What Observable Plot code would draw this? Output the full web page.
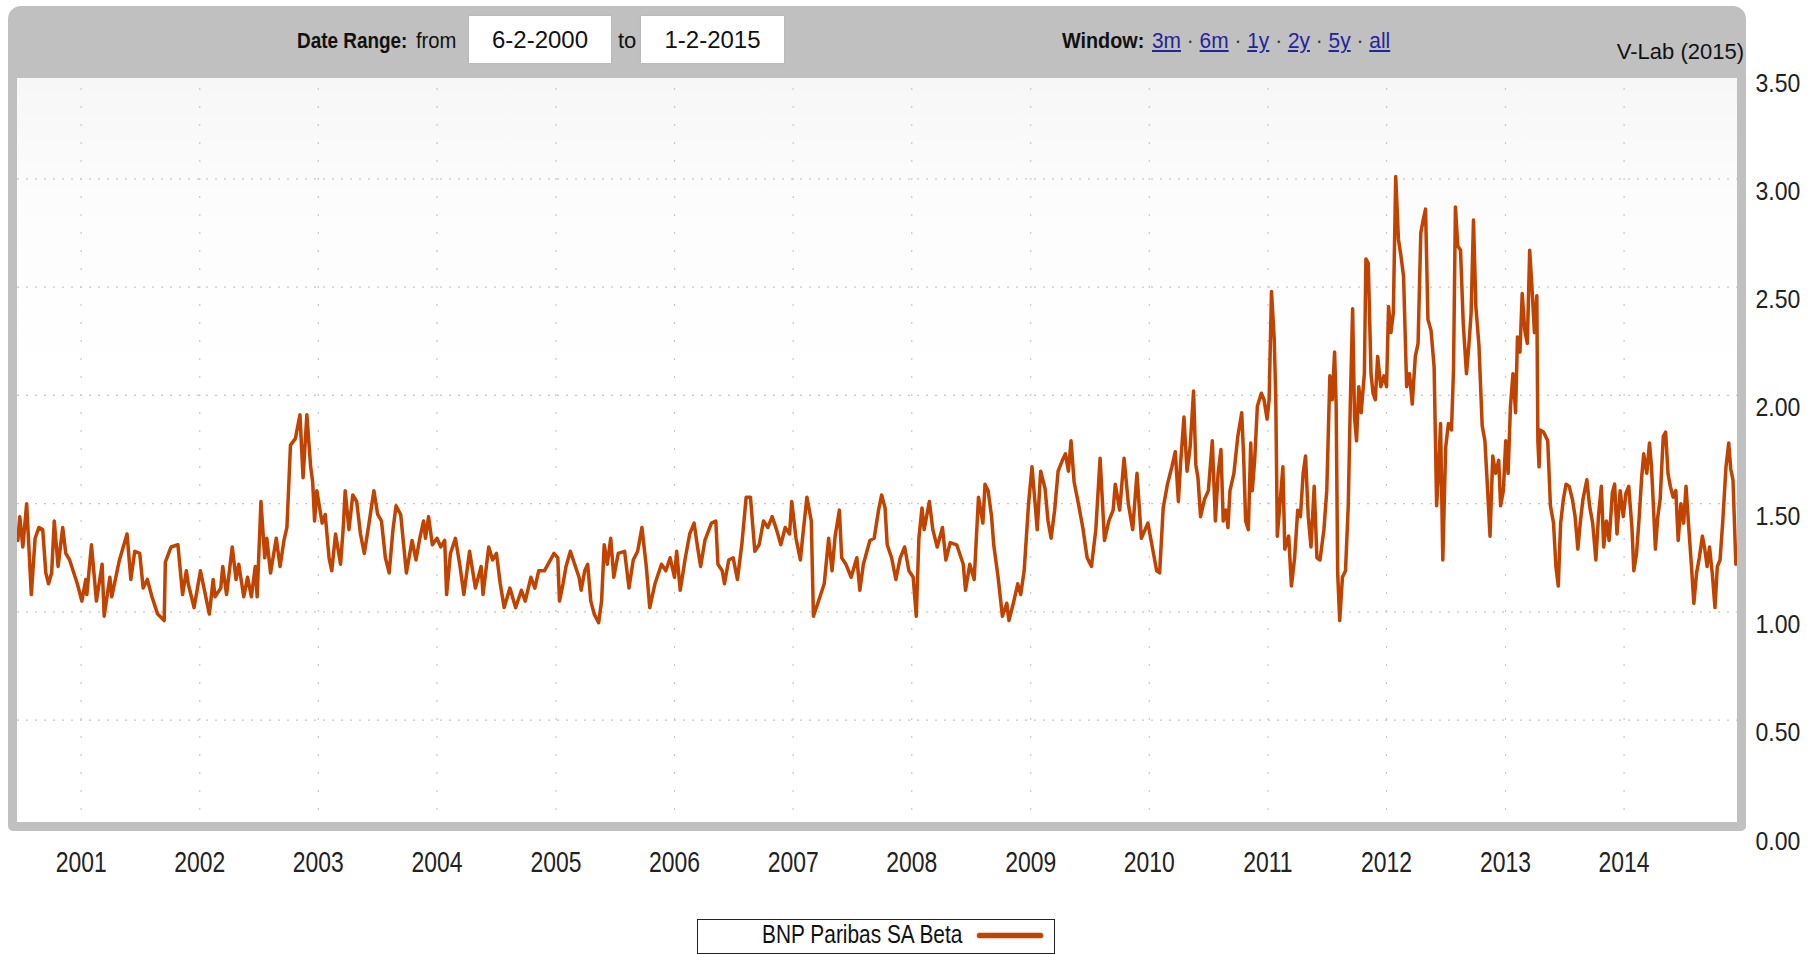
<!DOCTYPE html>
<html><head><meta charset="utf-8">
<script src="https://cdn.jsdelivr.net/npm/d3@7"></script>
<script src="https://cdn.jsdelivr.net/npm/@observablehq/plot@0.6"></script>
<style>
html,body{margin:0;padding:0;background:#fff;}
#chart{position:relative;width:1816px;height:954px;overflow:hidden;font-family:"Liberation Sans",Arial,sans-serif;}
.abs{position:absolute;white-space:nowrap;}
#plotbg{left:17px;top:78px;width:1720px;height:744px;background:linear-gradient(#f7f7f7 0px,#fcfcfc 120px,#ffffff 300px);}
#svgwrap{left:0;top:0;}
#frame{left:8px;top:6px;width:1738px;height:825px;box-sizing:border-box;border-style:solid;border-color:#c0c0c0;border-width:72px 9px 9px 9px;border-radius:13px 13px 5px 5px;}
.hdr{font-size:22px;line-height:22px;color:#111;top:30px;transform-origin:0 50%;}
.b{font-weight:bold;}
.box{top:16px;height:47px;background:#fff;box-shadow:0 0 1.5px #aaa;font-size:24px;line-height:47px;text-align:center;color:#111;}
.links a{color:#24249a;text-decoration:underline;}
.sep{color:#333;}
#legend{left:697px;top:919px;width:358px;height:35px;box-sizing:border-box;border:1.5px solid #222;background:#fff;}
#legtext{left:64px;top:2px;font-size:25px;line-height:25px;color:#111;transform:scaleX(0.835);transform-origin:0 50%;}
#legline{left:279px;top:13px;width:66px;height:5px;border-radius:3px;}
</style></head>
<body>
<div id="chart">
  <div id="plotbg" class="abs"></div>
  <div id="svgwrap" class="abs"></div>
  <div id="frame" class="abs"></div>
  <span class="abs hdr b" style="left:297px;transform:scaleX(0.86);">Date Range:</span>
  <span class="abs hdr" style="left:416px;transform:scaleX(0.92);">from</span>
  <div class="abs box" style="left:469px;width:142px;" id="fromBox"></div>
  <span class="abs hdr" style="left:618px;">to</span>
  <div class="abs box" style="left:641px;width:143px;" id="toBox"></div>
  <span class="abs hdr b" style="left:1062px;transform:scaleX(0.9);">Window:</span>
  <span class="abs hdr links" style="left:1152px;transform:scaleX(0.95);" id="links"></span>
  <span class="abs hdr" style="right:72px;top:41px;" id="credit"></span>
  <div id="legend" class="abs">
    <span id="legtext" class="abs"></span>
    <div id="legline" class="abs"></div>
  </div>
</div>
<script>
// ---- Data (decimal year, beta) ----
const seg2000 = [[2000.468,1.33],[2000.484,1.44],[2000.510,1.30],[2000.542,1.50],[2000.581,1.08],[2000.613,1.34],[2000.645,1.39],[2000.677,1.38],[2000.703,1.18],[2000.726,1.13],[2000.752,1.18],[2000.774,1.42],[2000.806,1.21],[2000.845,1.39],[2000.871,1.27],[2000.903,1.24],[2000.968,1.13],[2001.006,1.05],[2001.039,1.15],[2001.048,1.08],[2001.087,1.31],[2001.129,1.05],[2001.177,1.22],[2001.194,0.98],[2001.242,1.16],[2001.258,1.07],[2001.323,1.24],[2001.355,1.30],[2001.387,1.36],[2001.419,1.15],[2001.452,1.28],[2001.494,1.27],[2001.523,1.11],[2001.558,1.15],[2001.597,1.07],[2001.645,0.99],[2001.700,0.96],[2001.710,1.23],[2001.758,1.30],[2001.816,1.31],[2001.855,1.08],[2001.887,1.19],[2001.903,1.13],[2001.952,1.02],[2002.006,1.19],[2002.081,0.99],[2002.113,1.15],[2002.129,1.07],[2002.177,1.11],[2002.194,1.21],[2002.226,1.08],[2002.274,1.30],[2002.306,1.15],[2002.329,1.22],[2002.371,1.07],[2002.403,1.16],[2002.435,1.07],[2002.468,1.21],[2002.484,1.07],[2002.516,1.51],[2002.548,1.25],[2002.565,1.34],[2002.597,1.18],[2002.645,1.34],[2002.677,1.21],[2002.710,1.33],[2002.735,1.39],[2002.765,1.77],[2002.806,1.80],[2002.845,1.91],[2002.871,1.62],[2002.903,1.91],[2002.935,1.67],[2002.952,1.60],[2002.968,1.42],[2002.987,1.56],[2003.032,1.41],[2003.058,1.45],[2003.090,1.25],[2003.113,1.19],[2003.145,1.36],[2003.187,1.22],[2003.210,1.39],[2003.226,1.56],[2003.258,1.38],[2003.290,1.54],[2003.323,1.51],[2003.355,1.36],[2003.387,1.27],[2003.419,1.38],[2003.468,1.56],[2003.500,1.45],[2003.532,1.42],[2003.565,1.25],[2003.597,1.18],[2003.629,1.38],[2003.655,1.49],[2003.694,1.45],[2003.742,1.18],[2003.790,1.33],[2003.823,1.24],[2003.855,1.34],[2003.887,1.42],[2003.903,1.34],[2003.929,1.44],[2003.961,1.31],[2004.000,1.34],[2004.032,1.30],[2004.065,1.33],[2004.081,1.08],[2004.113,1.27],[2004.155,1.34],[2004.194,1.21],[2004.226,1.08],[2004.274,1.28],[2004.323,1.11],[2004.371,1.21],[2004.387,1.08],[2004.435,1.30],[2004.468,1.24],[2004.500,1.27],[2004.532,1.13],[2004.565,1.02],[2004.613,1.11],[2004.661,1.02],[2004.710,1.10],[2004.742,1.05],[2004.790,1.16],[2004.823,1.11],[2004.855,1.19],[2004.903,1.19],[2004.984,1.27],[2005.016,1.25]];

const seg2005 = [[2005.030,1.05],[2005.060,1.13],[2005.085,1.21],[2005.122,1.28],[2005.158,1.22],[2005.195,1.16],[2005.213,1.10],[2005.243,1.19],[2005.268,1.22],[2005.294,1.05],[2005.323,0.99],[2005.360,0.95],[2005.385,1.05],[2005.407,1.31],[2005.433,1.22],[2005.462,1.34],[2005.488,1.16],[2005.525,1.27],[2005.579,1.28],[2005.616,1.11],[2005.652,1.24],[2005.689,1.28],[2005.725,1.39],[2005.762,1.21],[2005.791,1.02],[2005.835,1.13],[2005.890,1.22],[2005.927,1.19],[2005.963,1.25],[2006.000,1.16],[2006.018,1.28],[2006.048,1.10],[2006.091,1.25],[2006.128,1.36],[2006.165,1.41],[2006.194,1.30],[2006.220,1.21],[2006.256,1.33],[2006.311,1.41],[2006.348,1.42],[2006.366,1.22],[2006.402,1.19],[2006.421,1.13],[2006.457,1.24],[2006.494,1.25],[2006.530,1.15],[2006.567,1.31],[2006.604,1.53],[2006.640,1.53],[2006.677,1.28],[2006.713,1.31],[2006.750,1.42],[2006.787,1.39],[2006.823,1.44],[2006.860,1.38],[2006.896,1.31],[2006.933,1.39],[2006.970,1.36],[2006.988,1.51],[2007.024,1.34],[2007.061,1.24],[2007.079,1.34],[2007.116,1.53],[2007.153,1.42],[2007.171,0.98],[2007.208,1.04],[2007.262,1.13],[2007.299,1.34],[2007.328,1.19],[2007.354,1.35],[2007.390,1.47],[2007.409,1.25],[2007.445,1.22],[2007.489,1.16],[2007.537,1.25],[2007.562,1.10],[2007.592,1.22],[2007.647,1.33],[2007.683,1.34],[2007.720,1.47],[2007.746,1.54],[2007.775,1.48],[2007.793,1.31],[2007.830,1.25],[2007.866,1.15],[2007.903,1.25],[2007.940,1.30],[2007.976,1.19],[2008.012,1.16],[2008.038,0.98],[2008.060,1.34],[2008.086,1.48],[2008.104,1.38],[2008.148,1.51],[2008.177,1.38],[2008.214,1.30],[2008.258,1.39],[2008.287,1.24],[2008.323,1.32],[2008.378,1.31],[2008.433,1.22],[2008.452,1.10],[2008.488,1.22],[2008.525,1.15],[2008.561,1.53],[2008.598,1.41],[2008.616,1.59],[2008.642,1.56],[2008.671,1.44],[2008.689,1.31],[2008.726,1.16],[2008.762,0.98],[2008.799,1.04],[2008.817,0.96],[2008.854,1.04],[2008.891,1.13],[2008.916,1.08],[2008.945,1.19],[2008.982,1.50],[2009.011,1.67],[2009.037,1.50],[2009.055,1.38],[2009.084,1.65],[2009.121,1.57],[2009.146,1.42],[2009.172,1.34],[2009.202,1.47],[2009.231,1.65],[2009.267,1.70],[2009.293,1.73],[2009.318,1.65],[2009.340,1.79],[2009.366,1.60],[2009.402,1.50],[2009.439,1.39],[2009.476,1.25],[2009.512,1.21],[2009.549,1.38],[2009.585,1.71],[2009.622,1.33],[2009.659,1.42],[2009.695,1.47],[2009.713,1.59],[2009.750,1.47],[2009.787,1.71],[2009.823,1.50],[2009.860,1.38],[2009.896,1.64],[2009.933,1.34],[2009.988,1.41],[2010.025,1.30],[2010.062,1.19],[2010.087,1.18],[2010.117,1.48],[2010.153,1.59],[2010.190,1.67],[2010.219,1.74],[2010.245,1.51],[2010.263,1.68],[2010.292,1.90],[2010.318,1.65],[2010.344,1.76],[2010.373,2.02],[2010.392,1.68],[2010.410,1.62]];

const seg2010 = [[2010.432,1.44],[2010.465,1.52],[2010.498,1.56],[2010.531,1.79],[2010.557,1.42],[2010.580,1.64],[2010.604,1.75],[2010.623,1.42],[2010.647,1.47],[2010.663,1.39],[2010.680,1.56],[2010.713,1.64],[2010.746,1.81],[2010.779,1.92],[2010.795,1.72],[2010.812,1.42],[2010.835,1.38],[2010.855,1.78],[2010.868,1.56],[2010.888,1.70],[2010.911,1.95],[2010.944,2.01],[2010.967,1.98],[2010.993,1.89],[2011.010,1.98],[2011.030,2.48],[2011.053,2.26],[2011.066,1.99],[2011.079,1.35],[2011.109,1.55],[2011.126,1.67],[2011.142,1.29],[2011.175,1.35],[2011.198,1.12],[2011.225,1.25],[2011.251,1.47],[2011.274,1.44],[2011.297,1.64],[2011.317,1.72],[2011.340,1.44],[2011.363,1.30],[2011.390,1.58],[2011.413,1.25],[2011.439,1.24],[2011.472,1.38],[2011.496,1.56],[2011.522,2.09],[2011.542,1.98],[2011.562,2.20],[2011.575,1.96],[2011.588,1.18],[2011.605,0.96],[2011.628,1.16],[2011.654,1.19],[2011.677,1.49],[2011.694,1.95],[2011.714,2.40],[2011.730,1.90],[2011.747,1.79],[2011.766,2.04],[2011.786,1.92],[2011.813,2.10],[2011.826,2.63],[2011.846,2.61],[2011.869,2.10],[2011.886,2.01],[2011.905,1.98],[2011.925,2.18],[2011.951,2.04],[2011.978,2.09],[2012.000,2.04],[2012.017,2.41],[2012.037,2.29],[2012.057,2.38],[2012.077,3.01],[2012.100,2.72],[2012.122,2.64],[2012.143,2.55],[2012.169,2.04],[2012.193,2.10],[2012.216,1.96],[2012.242,2.18],[2012.265,2.24],[2012.288,2.75],[2012.308,2.81],[2012.328,2.86],[2012.348,2.35],[2012.374,2.30],[2012.400,2.13],[2012.421,1.49],[2012.437,1.64],[2012.454,1.87],[2012.473,1.24],[2012.497,1.76],[2012.520,1.87],[2012.546,1.84],[2012.563,2.12],[2012.579,2.87],[2012.599,2.69],[2012.622,2.67],[2012.645,2.33],[2012.672,2.10],[2012.692,2.23],[2012.711,2.38],[2012.731,2.81],[2012.751,2.41],[2012.777,2.23],[2012.804,1.86],[2012.827,1.79],[2012.850,1.56],[2012.870,1.35],[2012.893,1.72],[2012.916,1.64],[2012.943,1.70],[2012.959,1.49],[2012.982,1.56],[2013.002,1.79],[2013.022,1.64],[2013.042,1.95],[2013.063,2.10],[2013.085,1.92],[2013.101,2.27],[2013.122,2.20],[2013.141,2.47],[2013.163,2.30],[2013.184,2.24],[2013.204,2.67],[2013.224,2.49],[2013.244,2.29],[2013.264,2.46],[2013.273,1.79],[2013.283,1.67],[2013.293,1.84],[2013.322,1.83],[2013.356,1.79],[2013.379,1.49],[2013.405,1.41],[2013.425,1.21],[2013.445,1.12],[2013.465,1.41],[2013.488,1.52],[2013.511,1.59],[2013.537,1.58],[2013.564,1.52],[2013.587,1.44],[2013.610,1.29],[2013.630,1.41],[2013.653,1.52],[2013.686,1.61],[2013.709,1.49],[2013.735,1.41],[2013.762,1.24],[2013.785,1.45],[2013.808,1.58],[2013.828,1.30],[2013.851,1.42],[2013.874,1.33],[2013.901,1.55],[2013.920,1.59],[2013.940,1.36],[2013.967,1.56],[2013.993,1.44],[2014.016,1.55],[2014.039,1.58],[2014.066,1.39],[2014.082,1.19],[2014.105,1.27],[2014.125,1.42],[2014.148,1.62],[2014.165,1.73],[2014.191,1.64],[2014.214,1.78],[2014.231,1.67],[2014.247,1.49],[2014.264,1.29],[2014.284,1.44],[2014.304,1.52],[2014.330,1.81],[2014.350,1.83],[2014.370,1.64],[2014.390,1.58],[2014.413,1.53],[2014.436,1.56],[2014.456,1.33],[2014.479,1.50],[2014.502,1.41],[2014.522,1.58],[2014.545,1.39],[2014.568,1.21],[2014.588,1.04],[2014.611,1.18],[2014.634,1.25],[2014.660,1.35],[2014.680,1.29],[2014.700,1.21],[2014.720,1.30],[2014.743,1.18],[2014.766,1.02],[2014.786,1.21],[2014.809,1.24],[2014.832,1.42],[2014.859,1.67],[2014.882,1.78],[2014.899,1.66],[2014.918,1.61],[2014.942,1.22]];

const yearLabels = [2001,2002,2003,2004,2005,2006,2007,2008,2009,2010,2011,2012,2013,2014];
const yTickValues = [0,0.5,1,1.5,2,2.5,3,3.5];
const xDomainYears = [2000.465, 2014.956];
const seriesName = "BNP Paribas SA Beta";
const dateFrom = "6-2-2000", dateTo = "1-2-2015";
const windowLinks = ["3m","6m","1y","2y","5y","all"];
const creditText = "V-Lab (2015)";
const lineColor = "#c14300";

// ---- Build ----
const toDate = y => { const yr = Math.floor(y); const s = Date.UTC(yr,0,1), e = Date.UTC(yr+1,0,1); return new Date(s + (y - yr) * (e - s)); };
const data = [...seg2000, ...seg2005, ...seg2010].map(([t, v]) => ({date: toDate(t), beta: v}));
const yearTicks = yearLabels.map(y => new Date(Date.UTC(y, 0, 1)));

const plot = Plot.plot({
  width: 1816, height: 900,
  marginLeft: 17, marginRight: 79, marginTop: 70, marginBottom: 72,
  style: {background: "transparent", fontFamily: "Liberation Sans, Arial, sans-serif", color: "#222", overflow: "visible"},
  x: {type: "utc", domain: xDomainYears.map(toDate), label: null},
  y: {domain: [0, 3.5], label: null},
  marks: [
    Plot.gridY(yTickValues.filter(v => v > 0 && v < 3.5), {stroke: "#c8c8c8", strokeOpacity: 1, strokeWidth: 1.2, strokeDasharray: "2,7"}),
    Plot.gridX(yearTicks, {stroke: "#c8c8c8", strokeOpacity: 1, strokeWidth: 1.2, strokeDasharray: "2,16"}),
    Plot.line(data, {x: "date", y: "beta", stroke: lineColor, strokeWidth: 3.5, strokeLinejoin: "round", strokeLinecap: "round"}),
    Plot.axisY(yTickValues, {anchor: "right", tickSize: 0, tickPadding: 18, dy: 13, tickFormat: d => d.toFixed(2), fontSize: 25, label: null}),
    Plot.axisX(yearTicks, {anchor: "bottom", tickSize: 0, tickPadding: 23, tickFormat: d => String(d.getUTCFullYear()), fontSize: 29, label: null})
  ]
});
document.getElementById("svgwrap").appendChild(plot);

// condense tick label glyphs horizontally (reference text is narrow)
function condense(sel, f) {
  d3.select(plot).selectAll(sel).each(function() {
    const L = this.getComputedTextLength();
    if (L > 0) {
      this.setAttribute("textLength", (L * f).toFixed(1));
      this.setAttribute("lengthAdjust", "spacingAndGlyphs");
    }
  });
}
condense('g[aria-label="x-axis tick label"] text', 0.79);
condense('g[aria-label="y-axis tick label"] text', 0.92);

// header & legend text
document.getElementById("fromBox").textContent = dateFrom;
document.getElementById("toBox").textContent = dateTo;
document.getElementById("credit").textContent = creditText;
document.getElementById("links").innerHTML = windowLinks.map(l => `<a>${l}</a>`).join('<span class="sep"> · </span>');
document.getElementById("legtext").textContent = seriesName;
document.getElementById("legline").style.background = lineColor;
document.getElementById("legline").style.boxShadow = "0 0 2px " + lineColor;
</script>
</body></html>
